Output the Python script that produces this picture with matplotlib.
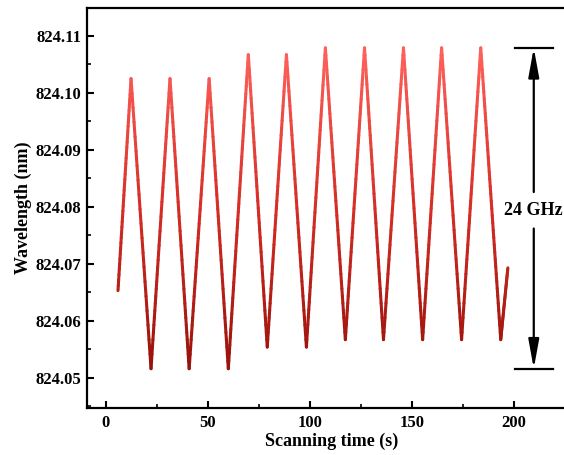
import numpy as np
import matplotlib
matplotlib.use('Agg')
import matplotlib.pyplot as plt
from matplotlib.collections import LineCollection
from matplotlib.colors import LinearSegmentedColormap
from matplotlib.path import Path
from matplotlib.ticker import MultipleLocator, FormatStrFormatter

plt.rcParams['font.family'] = ['Liberation Serif', 'DejaVu Serif']
plt.rcParams['font.weight'] = 'bold'

# scanning time (s) at turning points of the triangle scan
time_s = [5.9, 12.3, 22.1, 31.4, 40.8, 50.6, 60.0, 69.8, 79.1, 88.5, 98.3,
          107.6, 117.4, 126.8, 136.1, 145.9, 155.3, 164.6, 174.4, 183.8, 193.6, 197.1]
# wavelength (nm)
wavelength = [824.0653, 824.1025, 824.0516, 824.1025, 824.0516, 824.1025, 824.0516,
              824.1067, 824.0554, 824.1067, 824.0554, 824.1079, 824.0567, 824.1079,
              824.0567, 824.1079, 824.0567, 824.1079, 824.0567, 824.1079, 824.0567, 824.0693]
span_top = 824.1079
span_bottom = 824.0516
span_label = '24 GHz'

fig = plt.figure(figsize=(5.64, 4.55), dpi=100)
ax = fig.add_axes([87 / 564, 47 / 455, 490 / 564, 400 / 455])

# line coloured by wavelength (dark red low -> light red high)
cmap = LinearSegmentedColormap.from_list('reds', ['#98120a', '#d42e26', '#ff625c'])
path = Path(np.column_stack([time_s, wavelength])).interpolated(40)
pts = path.vertices.reshape(-1, 1, 2)
segs = np.concatenate([pts[:-1], pts[1:]], axis=1)
lc = LineCollection(segs, cmap=cmap, linewidth=2.2, capstyle='round', joinstyle='round')
lc.set_array(segs[:, :, 1].mean(axis=1))
lc.set_clim(min(wavelength), max(wavelength))
ax.add_collection(lc)

ax.set_xlim(-9.3, 231)
ax.set_ylim(824.0447, 824.1149)

# span annotation
xa = 209.8
head = '-|>,head_length=1.1,head_width=0.2'
ax.plot([200.5, 219.2], [span_top, span_top], color='black', lw=1.6)
ax.plot([200.5, 219.2], [span_bottom, span_bottom], color='black', lw=1.6)
ax.annotate('', xy=(xa, span_top), xytext=(xa, 824.0826),
            arrowprops=dict(arrowstyle=head, color='black', lw=1.6,
                            mutation_scale=16, shrinkA=0, shrinkB=0))
ax.annotate('', xy=(xa, span_bottom), xytext=(xa, 824.0762),
            arrowprops=dict(arrowstyle=head, color='black', lw=1.6,
                            mutation_scale=16, shrinkA=0, shrinkB=0))
ax.text(xa, 824.0794, span_label, ha='center', va='center', fontsize=13, fontweight='bold')

ax.xaxis.set_major_locator(MultipleLocator(50))
ax.xaxis.set_minor_locator(MultipleLocator(25))
ax.yaxis.set_major_locator(MultipleLocator(0.01))
ax.yaxis.set_minor_locator(MultipleLocator(0.005))
ax.yaxis.set_major_formatter(FormatStrFormatter('%.2f'))
ax.tick_params(which='major', direction='in', length=5, width=1.5, labelsize=12)
ax.tick_params(axis='x', which='major', pad=5)
ax.tick_params(axis='y', which='major', pad=4)
ax.tick_params(which='minor', direction='in', length=3, width=1.2)
for s in ax.spines.values():
    s.set_linewidth(1.6)

ax.set_xlabel('Scanning time (s)', fontsize=13, fontweight='bold', labelpad=1)
ax.set_ylabel('Wavelength (nm)', fontsize=13, fontweight='bold', labelpad=3)

fig.savefig('out.png', dpi=100)
